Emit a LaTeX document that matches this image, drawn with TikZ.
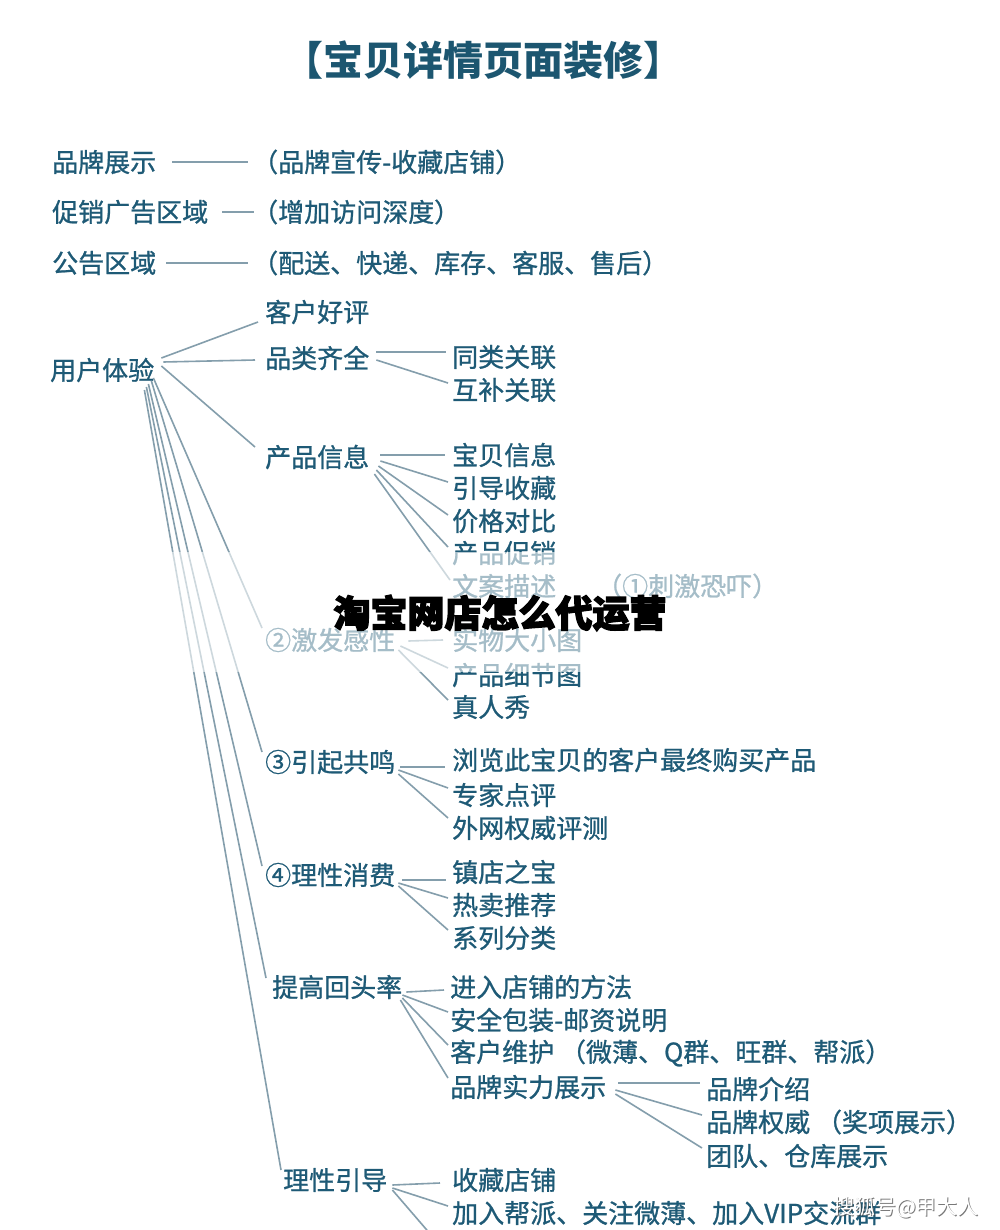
\documentclass[tikz,border=0pt]{standalone}
\usepackage{fontspec}
\setmainfont{Noto Sans CJK SC}
\newfontfamily\txtfont[FakeBold=0.9]{Noto Sans CJK SC}
\newfontfamily\wmfont[FakeBold=3.5]{Noto Sans CJK SC}
\usetikzlibrary{calc}
\definecolor{tblue}{RGB}{30,90,118}
\definecolor{ttitle}{RGB}{28,86,112}
\definecolor{lgray}{RGB}{132,158,172}
\newcommand\myconn[4]{\draw[ln] ($(#1.east)+(#2)$) -- ($(#3.west)+(#4)$);}
\begin{document}
\begin{tikzpicture}[x=1pt,y=-1pt,
  txt/.style={anchor=west,inner sep=0pt,text=tblue,font=\fontsize{26}{30}\selectfont\txtfont},
  ttl/.style={inner sep=0pt,text=ttitle,font=\fontsize{40}{46}\selectfont\bfseries},
  ln/.style={draw=lgray,line width=1.6pt},
  wm/.style={inner sep=0pt,text=black,font=\fontsize{37}{42}\selectfont\wmfont\bfseries},
  sh/.style={inner sep=0pt,font=\fontsize{21}{24}\selectfont}]
\useasboundingbox (0,0) rectangle (1000,1230);
\fill[white] (0,0) rectangle (1000,1230);

% title
\node[ttl] (title) at (483,60) {【宝贝详情页面装修】};

% top rows
\node[txt] (pz) at (52,162) {品牌展示};
\node[txt] (pzd) at (252,162) {（品牌宣传-收藏店铺）};
\node[txt] (cx) at (52,212) {促销广告区域};
\node[txt] (cxd) at (252,212) {（增加访问深度）};
\node[txt] (gg) at (52,263) {公告区域};
\node[txt] (ggd) at (252,263) {（配送、快递、库存、客服、售后）};
\myconn{pz}{16,0}{pzd}{-4,0}
\myconn{cx}{14,0}{cxd}{2,0}
\myconn{gg}{10,0}{ggd}{-4,0}

% main tree
\node[txt] (ux) at (50,370) {用户体验};
\node[txt] (khhp) at (265,312) {客户好评};
\node[txt] (plq) at (265,358) {品类齐全};
\node[txt] (cpxx) at (265,457) {产品信息};
\node[txt] (jf) at (265,640) {②激发感性};
\node[txt] (gm) at (265,762) {③引起共鸣};
\node[txt] (lx) at (265,875) {④理性消费};
\node[txt] (tg) at (272,987) {提高回头率};
\node[txt] (lxyd) at (283,1180) {理性引导};

\myconn{ux}{7,-12}{khhp}{-7,10}
\myconn{ux}{9,-8}{plq}{-10,2}
\myconn{ux}{7,-4}{cpxx}{-10,-10}
\myconn{ux}{-1,8}{jf}{-3,-12}
\myconn{ux}{-3,11}{gm}{-3,-10}
\myconn{ux}{-6,14}{lx}{-3,-9}
\myconn{ux}{-8,17}{tg}{-6,-9}
\myconn{ux}{-10,20}{lxyd}{-2,-10}

% 品类齐全
\node[txt] (tl) at (452,357) {同类关联};
\node[txt] (hb) at (452,390) {互补关联};
\myconn{plq}{7,-6}{tl}{-6,-5}
\myconn{plq}{7,2}{hb}{-4,-7}

% 产品信息
\node[txt] (bbxx) at (452,455) {宝贝信息};
\node[txt] (ydsc) at (452,488) {引导收藏};
\node[txt] (jgdb) at (452,521) {价格对比};
\node[txt] (cpcx) at (452,553) {产品促销};
\node[txt] (wams) at (452,586) {文案描述};
\node[txt] (cjkh) at (596,586) {（①刺激恐吓）};
\myconn{cpxx}{11,-2}{bbxx}{-7,0}
\myconn{cpxx}{11,4}{ydsc}{-4,-6}
\myconn{cpxx}{9,9}{jgdb}{-4,-6}
\myconn{cpxx}{7,13}{cpcx}{-4,-6}
\myconn{cpxx}{5,17}{wams}{-2,-6}

% ②激发感性
\node[txt] (swdx) at (452,640) {实物大小图};
\node[txt] (cpxj) at (452,675) {产品细节图};
\node[txt] (zrx) at (452,707) {真人秀};
\myconn{jf}{13,1}{swdx}{-9,0}
\myconn{jf}{5,6}{cpxj}{-4,-7}
\myconn{jf}{3,10}{zrx}{-4,-7}

% ③引起共鸣
\node[txt] (llc) at (452,760) {浏览此宝贝的客户最终购买产品};
\node[txt] (zjdp) at (452,795) {专家点评};
\node[txt] (wwqw) at (452,828) {外网权威评测};
\myconn{gm}{5,5}{llc}{-7,7}
\myconn{gm}{3,8}{zjdp}{-4,-7}
\myconn{gm}{3,12}{wwqw}{-4,-10}

% ④理性消费
\node[txt] (zdzb) at (452,872) {镇店之宝};
\node[txt] (rmtj) at (452,905) {热卖推荐};
\node[txt] (xlfl) at (452,938) {系列分类};
\myconn{lx}{7,5}{zdzb}{-6,8}
\myconn{lx}{3,8}{rmtj}{-4,-7}
\myconn{lx}{3,11}{xlfl}{-4,-8}

% 提高回头率
\node[txt] (jrdp) at (450,987) {进入店铺的方法};
\node[txt] (aqbz) at (450,1020) {安全包装-邮资说明};
\node[txt] (khwh) at (450,1053) {客户维护\ （微薄、Q群、旺群、帮派）};
\node[txt] (ppsl) at (450,1087) {品牌实力展示};
\myconn{tg}{4,5}{jrdp}{-6,3}
\myconn{tg}{0,8}{aqbz}{-2,-8}
\myconn{tg}{0,11}{khwh}{-2,-8}
\myconn{tg}{-2,13}{ppsl}{-2,-9}

% 品牌实力展示
\node[txt] (ppjs) at (706,1089) {品牌介绍};
\node[txt] (ppqw) at (706,1122) {品牌权威\ （奖项展示）};
\node[txt] (tdck) at (706,1156) {团队、仓库展示};
\myconn{ppsl}{12,-4}{ppjs}{-6,-6}
\myconn{ppsl}{9,3}{ppqw}{-4,-7}
\myconn{ppsl}{9,7}{tdck}{-4,-8}

% 理性引导
\node[txt] (scdp) at (452,1180) {收藏店铺};
\node[txt] (jrbp) at (452,1213) {加入帮派、关注微薄、加入VIP交流群};
\coordinate (offb) at (432,1236);
\myconn{lxyd}{5,5}{scdp}{-12,3}
\myconn{lxyd}{5,8}{jrbp}{-4,-7}
\draw[ln] ($(lxyd.east)+(5,10)$) -- (offb);

% faded band and watermark
\fill[white,opacity=0.6] (0,552) rectangle (1000,672);
\node[wm] (wmk) at (500,613) {淘宝网店怎么代运营};

% bottom-right watermark
\node[sh,text=black!75,opacity=0.7] (shb) at (907,1208) {搜狐号@甲大人};
\node[sh,text=white] (shw) at (906,1207) {搜狐号@甲大人};
\end{tikzpicture}
\end{document}
